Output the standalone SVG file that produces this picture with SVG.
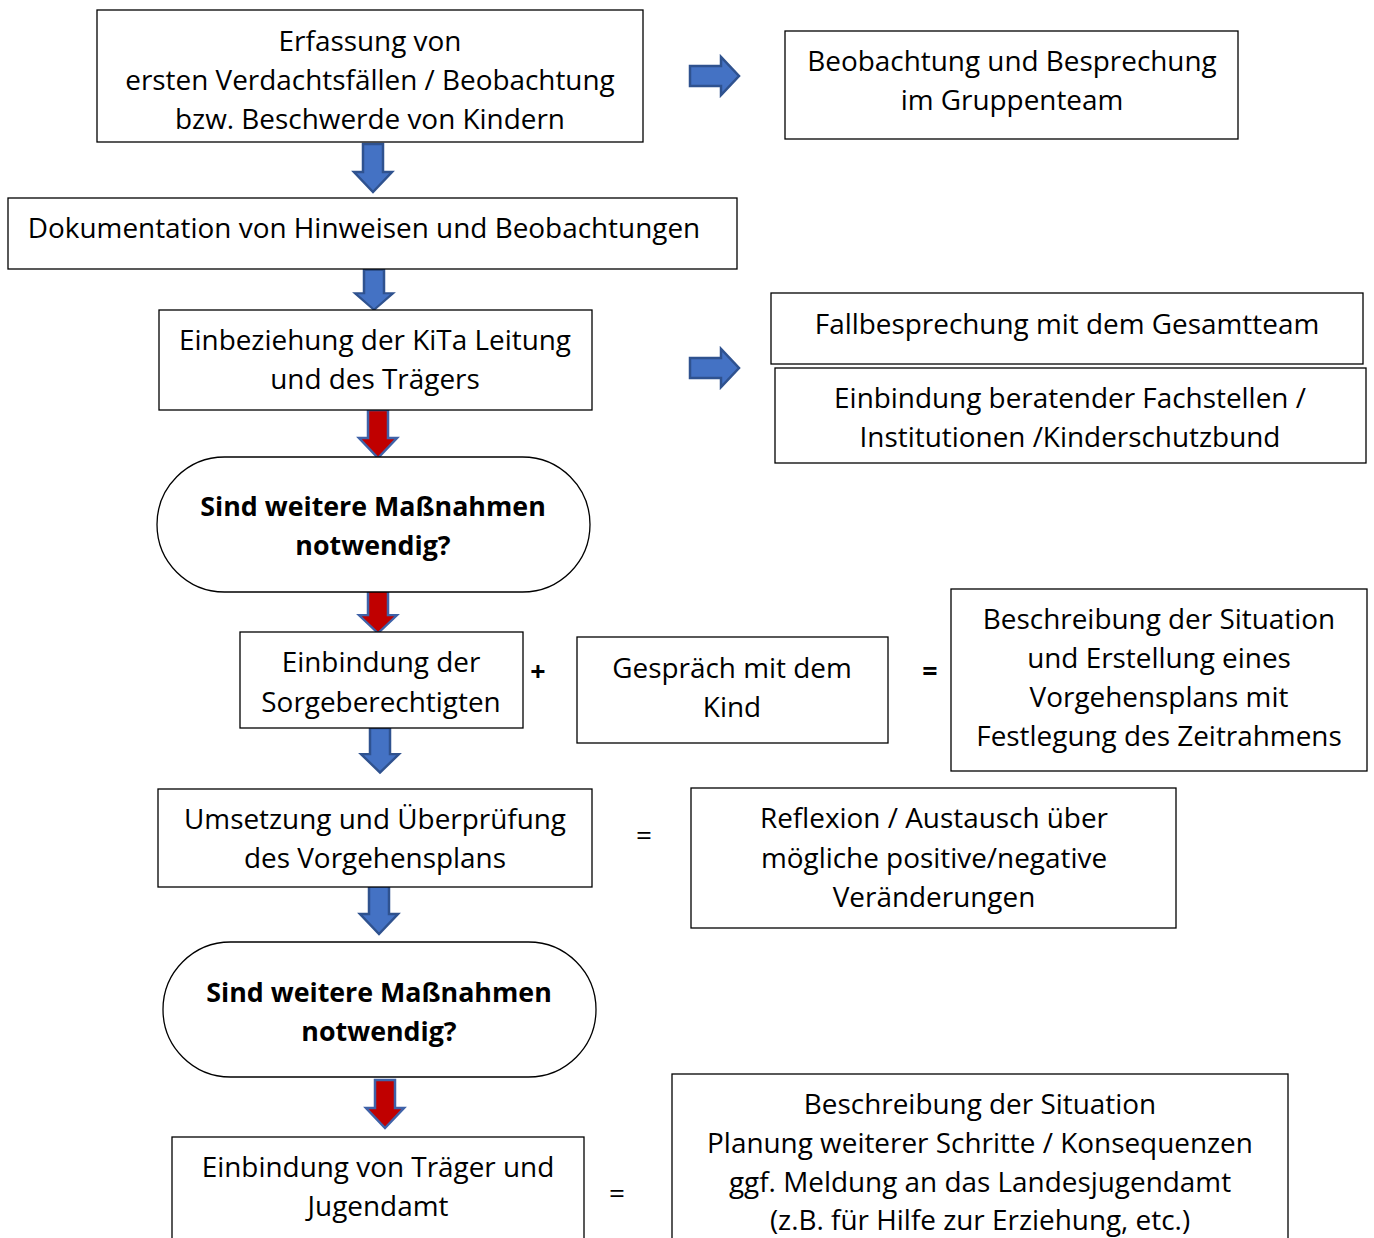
<svg xmlns="http://www.w3.org/2000/svg" width="1374" height="1238" viewBox="0 0 1374 1238">
<defs>
<style>
.box{fill:#fff;stroke:#000;stroke-width:1.3}
text{font-family:"Open Sans","Liberation Sans",sans-serif;font-size:27.9px;fill:#000;text-anchor:middle}
.b{font-weight:bold;font-size:26.8px}
.blue{fill:#4472C4;stroke:#2F528F;stroke-width:2.5;stroke-linejoin:miter}
.red{fill:#C00000;stroke:#3F62A8;stroke-width:2.5;stroke-linejoin:miter}
</style>
<path id="dn" d="M-10,0 H10 V28 H19 L0,48 L-19,28 H-10 Z"/>
<path id="rt" d="M0,-10 H31 V-19 L49,0 L31,19 V10 H0 Z"/>
</defs>
<rect width="1374" height="1238" fill="#fff"/>
<g id="connectors">
<use href="#dn" class="blue" x="373" y="144"/>
<use href="#dn" class="blue" x="374" y="270" transform="translate(374 270) scale(1 0.83) translate(-374 -270)"/>
<use href="#rt" class="blue" x="690" y="76"/>
<use href="#rt" class="blue" x="690" y="368"/>
<use href="#dn" class="red" x="378" y="410"/>
<use href="#dn" class="red" x="378" y="590" transform="translate(378 590) scale(1 0.9) translate(-378 -590)"/>
<use href="#dn" class="blue" x="380" y="728" transform="translate(380 728) scale(1 0.93) translate(-380 -728)"/>
<use href="#dn" class="blue" x="379" y="886"/>
<use href="#dn" class="red" x="385" y="1080"/>
</g>
<g id="n1"><rect class="box" x="97" y="10" width="546" height="132"/>
<text x="370" y="51">Erfassung von</text><text x="370" y="90">ersten Verdachtsfällen / Beobachtung</text><text x="370" y="129">bzw. Beschwerde von Kindern</text></g>
<g id="n2"><rect class="box" x="785" y="31" width="453" height="108"/>
<text x="1012" y="71">Beobachtung und Besprechung</text><text x="1012" y="110">im Gruppenteam</text></g>
<g id="n3"><rect class="box" x="8" y="198" width="729" height="71"/>
<text x="364" y="238">Dokumentation von Hinweisen und Beobachtungen</text></g>
<g id="n4"><rect class="box" x="159" y="310" width="433" height="100"/>
<text x="375" y="350">Einbeziehung der KiTa Leitung</text><text x="375" y="389">und des Trägers</text></g>
<g id="n5"><rect class="box" x="771" y="293" width="592" height="71"/>
<text x="1067" y="334">Fallbesprechung mit dem Gesamtteam</text></g>
<g id="n6"><rect class="box" x="775" y="368" width="591" height="95"/>
<text x="1070" y="408">Einbindung beratender Fachstellen /</text><text x="1070" y="447">Institutionen /Kinderschutzbund</text></g>
<g id="n7"><rect class="box" x="157" y="457" width="433" height="135" rx="67.5" ry="67.5"/>
<text class="b" x="373" y="516">Sind weitere Maßnahmen</text><text class="b" x="373" y="555">notwendig?</text></g>
<g id="n8"><rect class="box" x="240" y="632" width="283" height="96"/>
<text x="381" y="672">Einbindung der</text><text x="381" y="712">Sorgeberechtigten</text></g>
<text class="b" x="538" y="681">+</text>
<g id="n9"><rect class="box" x="577" y="637" width="311" height="106"/>
<text x="732" y="678">Gespräch mit dem</text><text x="732" y="717">Kind</text></g>
<text class="b" x="930" y="681">=</text>
<g id="n10"><rect class="box" x="951" y="589" width="416" height="182"/>
<text x="1159" y="629">Beschreibung der Situation</text><text x="1159" y="668">und Erstellung eines</text><text x="1159" y="707">Vorgehensplans mit</text><text x="1159" y="746">Festlegung des Zeitrahmens</text></g>
<g id="n11"><rect class="box" x="158" y="789" width="434" height="98"/>
<text x="375" y="829">Umsetzung und Überprüfung</text><text x="375" y="868">des Vorgehensplans</text></g>
<text x="644" y="845">=</text>
<g id="n12"><rect class="box" x="691" y="788" width="485" height="140"/>
<text x="934" y="828">Reflexion / Austausch über</text><text x="934" y="868">mögliche positive/negative</text><text x="934" y="907">Veränderungen</text></g>
<g id="n13"><rect class="box" x="163" y="942" width="433" height="135" rx="67.5" ry="67.5"/>
<text class="b" x="379" y="1002">Sind weitere Maßnahmen</text><text class="b" x="379" y="1041">notwendig?</text></g>
<g id="n14"><rect class="box" x="172" y="1137" width="412" height="120"/>
<text x="378" y="1177">Einbindung von Träger und</text><text x="378" y="1216">Jugendamt</text></g>
<text x="617" y="1203">=</text>
<g id="n15"><rect class="box" x="672" y="1074" width="616" height="180"/>
<text x="980" y="1114">Beschreibung der Situation</text><text x="980" y="1153">Planung weiterer Schritte / Konsequenzen</text><text x="980" y="1192">ggf. Meldung an das Landesjugendamt</text><text x="980" y="1230">(z.B. für Hilfe zur Erziehung, etc.)</text></g>
</svg>
